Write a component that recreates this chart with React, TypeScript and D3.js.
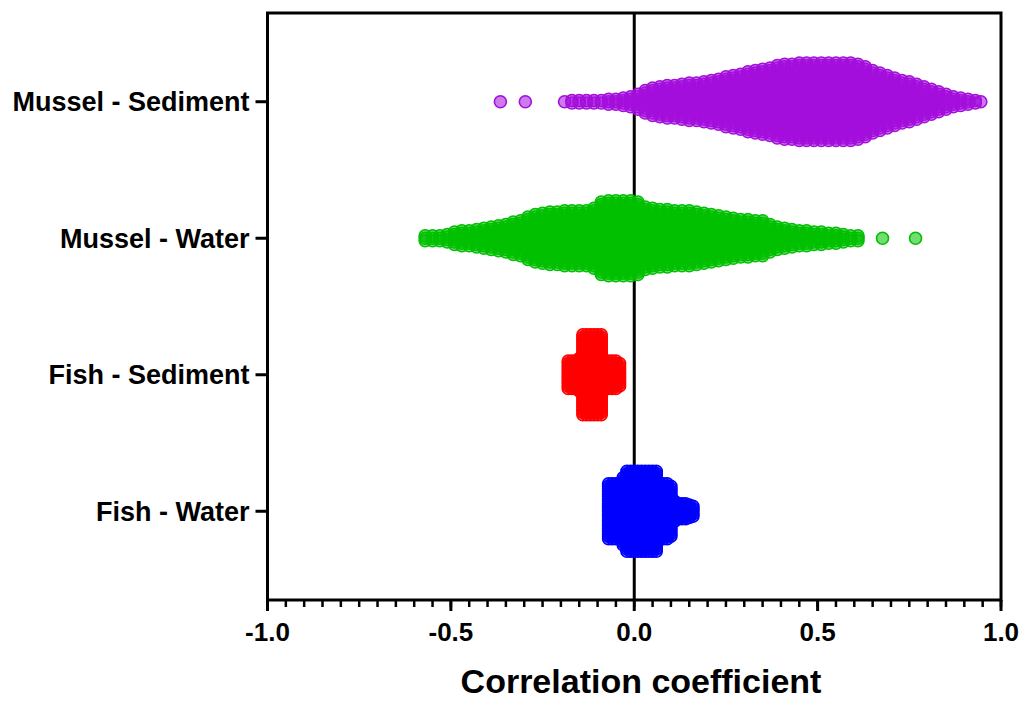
import React, { useMemo } from 'react';
import * as d3 from 'd3';

// categories, top to bottom
const categories = ['Mussel - Sediment', 'Mussel - Water', 'Fish - Sediment', 'Fish - Water'];
const colors = ['#a40fdc', '#00c000', '#ff0000', '#0000ff'];

// swarm columns: [correlation coefficient, number of points stacked]
const musselSediment: [number, number][] = [
  [-0.365, 1], [-0.297, 1], [-0.19, 1], [-0.17, 2], [-0.15, 2], [-0.13, 2], [-0.11, 2],
  [-0.09, 2], [-0.07, 3], [-0.05, 3], [-0.03, 4], [-0.01, 5], [0.01, 7], [0.03, 10],
  [0.05, 12], [0.07, 13], [0.09, 14], [0.11, 14], [0.13, 15], [0.15, 16], [0.17, 16],
  [0.19, 17], [0.21, 18], [0.23, 19], [0.25, 21], [0.27, 22], [0.29, 23], [0.31, 25],
  [0.33, 26], [0.35, 27], [0.37, 28], [0.39, 30], [0.41, 31], [0.43, 31], [0.45, 32],
  [0.47, 32], [0.49, 32], [0.51, 32], [0.53, 32], [0.55, 32], [0.57, 32], [0.59, 32],
  [0.61, 31], [0.63, 29], [0.65, 26], [0.67, 24], [0.69, 22], [0.71, 20], [0.73, 18],
  [0.75, 17], [0.77, 15], [0.79, 13], [0.81, 11], [0.83, 9], [0.85, 7], [0.87, 5],
  [0.89, 4], [0.91, 3], [0.93, 2], [0.945, 1],
];

const musselWater: [number, number][] = [
  [-0.57, 3], [-0.55, 3], [-0.53, 3], [-0.51, 4], [-0.49, 6], [-0.47, 7], [-0.45, 7],
  [-0.43, 8], [-0.41, 9], [-0.39, 10], [-0.37, 11], [-0.35, 12], [-0.33, 14], [-0.31, 15],
  [-0.29, 18], [-0.27, 20], [-0.25, 21], [-0.23, 22], [-0.21, 22], [-0.19, 23], [-0.17, 23],
  [-0.15, 23], [-0.13, 23], [-0.11, 25], [-0.09, 30], [-0.07, 31], [-0.05, 31], [-0.03, 31],
  [-0.01, 31], [0.01, 30], [0.03, 26], [0.05, 25], [0.07, 24], [0.09, 24], [0.11, 23],
  [0.13, 23], [0.15, 23], [0.17, 22], [0.19, 21], [0.21, 20], [0.23, 19], [0.25, 18],
  [0.27, 17], [0.29, 16], [0.31, 16], [0.33, 15], [0.35, 15], [0.37, 12], [0.39, 10],
  [0.41, 9], [0.43, 8], [0.45, 7], [0.47, 7], [0.49, 6], [0.51, 6], [0.53, 5], [0.55, 5],
  [0.57, 4], [0.59, 3], [0.61, 3], [0.677, 1], [0.767, 1],
];

const fishSediment: [number, number][] = [
  [-0.18, 12], [-0.17, 12], [-0.16, 12], [-0.15, 14], [-0.14, 33], [-0.13, 33], [-0.12, 33],
  [-0.11, 33], [-0.1, 33], [-0.09, 33], [-0.08, 12], [-0.07, 12], [-0.06, 12], [-0.05, 12],
  [-0.04, 10],
];

const fishWater: [number, number][] = [
  [-0.07, 23], [-0.06, 23], [-0.05, 23], [-0.04, 23], [-0.03, 28], [-0.02, 33], [-0.01, 33],
  [0.0, 33], [0.01, 33], [0.02, 33], [0.03, 33], [0.04, 33], [0.05, 33], [0.06, 33],
  [0.07, 23], [0.08, 23], [0.09, 23], [0.1, 21], [0.11, 9], [0.12, 7], [0.13, 7],
  [0.14, 7], [0.15, 6], [0.16, 5],
];

const series = [musselSediment, musselWater, fishSediment, fishWater];
const majorTicks = [-1.0, -0.5, 0.0, 0.5, 1.0];

const W = 1021;
const H = 701;
const frame = { left: 267.5, right: 1001, top: 13, bottom: 600 };
const dotR = 6;
const dotStep = 2.5;
const font = "'Liberation Sans', Arial, sans-serif";

export default function App() {
  const x = d3.scaleLinear().domain([-1, 1]).range([frame.left, frame.right]);
  const y = d3.scalePoint<string>().domain(categories).range([frame.top, frame.bottom]).padding(0.65);

  const dots = useMemo(() => {
    const out: { cx: number; cy: number; c: string; key: string }[] = [];
    series.forEach((cols, si) => {
      const cy0 = y(categories[si]) as number;
      cols.forEach(([v, n], ci) => {
        for (let k = 0; k < n; k++) {
          out.push({
            cx: x(v),
            cy: cy0 + (k - (n - 1) / 2) * dotStep,
            c: colors[si],
            key: `${si}-${ci}-${k}`,
          });
        }
      });
    });
    return out;
  }, []);

  const minorTicks = x.ticks(40);

  return (
    <div style={{ position: 'absolute', left: 0, top: 0 }}>
      <svg width={W} height={H} style={{ display: 'block', background: '#fff' }}>
        {/* zero line */}
        <line x1={x(0)} x2={x(0)} y1={frame.top} y2={frame.bottom} stroke="#000" strokeWidth={3} />

        {/* swarms */}
        <g>
          {dots.map(d => (
            <circle
              key={d.key} cx={d.cx} cy={d.cy} r={dotR}
              fill={d.c} fillOpacity={0.55} stroke={d.c} strokeWidth={1.6}
            />
          ))}
        </g>

        {/* frame */}
        <rect
          x={frame.left} y={frame.top}
          width={frame.right - frame.left} height={frame.bottom - frame.top}
          fill="none" stroke="#000" strokeWidth={3}
        />

        {/* y axis */}
        {categories.map(c => (
          <g key={c}>
            <line x1={frame.left - 12} x2={frame.left} y1={y(c)} y2={y(c)} stroke="#000" strokeWidth={3} />
            <text
              x={frame.left - 18} y={y(c)} dy="0.36em"
              textAnchor="end" fontFamily={font}
              fontWeight="bold" fontSize={27} fill="#000"
            >
              {c}
            </text>
          </g>
        ))}

        {/* x axis */}
        {minorTicks.map(t => (
          <line key={`m${t}`} x1={x(t)} x2={x(t)} y1={frame.bottom} y2={frame.bottom + 7} stroke="#000" strokeWidth={2.5} />
        ))}
        {majorTicks.map(t => (
          <g key={`M${t}`}>
            <line x1={x(t)} x2={x(t)} y1={frame.bottom} y2={frame.bottom + 11} stroke="#000" strokeWidth={3} />
            <text
              x={x(t)} y={641} textAnchor="middle"
              fontFamily={font} fontWeight="bold" fontSize={26} fill="#000"
            >
              {d3.format('.1f')(t).replace('−', '-')}
            </text>
          </g>
        ))}
        <text
          x={641} y={693} textAnchor="middle"
          fontFamily={font} fontWeight="bold" fontSize={34} fill="#000"
        >
          Correlation coefficient
        </text>
      </svg>
    </div>
  );
}
